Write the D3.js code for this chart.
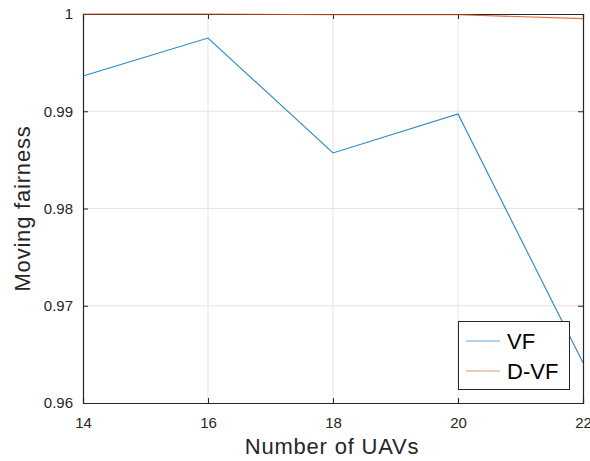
<!DOCTYPE html>
<html><head><meta charset="utf-8">
<script src="https://cdn.jsdelivr.net/npm/d3@7"></script>
<style>body{margin:0;background:#fff}svg{display:block;font-family:"Liberation Sans",Arial,sans-serif}</style>
</head><body><svg id="c" width="590" height="461"></svg>
<script>
const xValues = [14, 16, 18, 20, 22];
const vf = [0.99363, 0.99753, 0.98571, 0.98972, 0.96413];
const dvf = [1.0, 1.0, 0.99993, 0.99993, 0.99952];
const xTicks = [14, 16, 18, 20, 22];
const yTicks = [0.96, 0.97, 0.98, 0.99, 1];
const seriesNames = ["VF", "D-VF"];
const colors = ["#0072BD", "#D95319"];

const svg = d3.select("#c");
const L = 83, R = 583, T = 14, B = 403;
const x = d3.scaleLinear().domain([14, 22]).range([L, R]);
const y = d3.scaleLinear().domain([0.96, 1]).range([B, T]);

// grid
svg.append("g").selectAll("line").data(xTicks.slice(1, -1)).join("line")
  .attr("x1", d => x(d)).attr("x2", d => x(d)).attr("y1", T).attr("y2", B)
  .attr("stroke", "#e3e3e3").attr("stroke-width", 1);
svg.append("g").selectAll("line").data(yTicks.slice(1, -1)).join("line")
  .attr("x1", L).attr("x2", R).attr("y1", d => y(d)).attr("y2", d => y(d))
  .attr("stroke", "#e3e3e3").attr("stroke-width", 1);

// axes
const ax = svg.append("g").attr("transform", `translate(0,${B})`)
  .call(d3.axisBottom(x).tickValues(xTicks).tickSize(-5).tickPadding(14).tickFormat(d3.format("d")));
const ay = svg.append("g").attr("transform", `translate(${L},0)`)
  .call(d3.axisLeft(y).tickValues(yTicks).tickSize(-5).tickPadding(10).tickFormat(d => d === 1 ? "1" : d3.format(".2f")(d)));
const axT = svg.append("g").attr("transform", `translate(0,${T})`)
  .call(d3.axisTop(x).tickValues(xTicks).tickSize(-5).tickFormat(""));
const ayR = svg.append("g").attr("transform", `translate(${R},0)`)
  .call(d3.axisRight(y).tickValues(yTicks).tickSize(-5).tickFormat(""));
[ax, ay, axT, ayR].forEach(g => {
  g.select(".domain").attr("stroke", "#262626").attr("stroke-width", 1.2);
  g.selectAll(".tick line").attr("stroke", "#262626");
  g.selectAll("text").attr("fill", "#262626").attr("font-size", 15).attr("font-family", '"Liberation Sans",Arial,sans-serif');
});

// lines
const line = d3.line().x((d, i) => x(xValues[i])).y(d => y(d));
[vf, dvf].forEach((s, k) => {
  svg.append("path").datum(s).attr("d", line).attr("fill", "none")
    .attr("stroke", colors[k]).attr("stroke-width", 1.1).attr("opacity", 0.85);
});

// labels
svg.append("text").attr("x", 332).attr("y", 454).attr("text-anchor", "middle")
  .attr("font-size", 22).attr("letter-spacing", 0.8).attr("fill", "#262626").text("Number of UAVs");
svg.append("text").attr("transform", `translate(30,${(T + B) / 2}) rotate(-90)`).attr("text-anchor", "middle")
  .attr("font-size", 22).attr("letter-spacing", 0.8).attr("fill", "#262626").text("Moving fairness");

// legend
const lg = svg.append("g");
lg.append("rect").attr("x", 458.5).attr("y", 321.5).attr("width", 111).attr("height", 68)
  .attr("fill", "#fff").attr("stroke", "#262626").attr("stroke-width", 1);
seriesNames.forEach((n, i) => {
  const yy = 341 + i * 30;
  lg.append("line").attr("x1", 466).attr("x2", 500).attr("y1", yy).attr("y2", yy)
    .attr("stroke", colors[i]).attr("stroke-width", 1.1).attr("opacity", 0.6);
  lg.append("text").attr("x", 507).attr("y", yy + 8).attr("font-size", 22).attr("fill", "#000").text(n);
});
</script></body></html>
